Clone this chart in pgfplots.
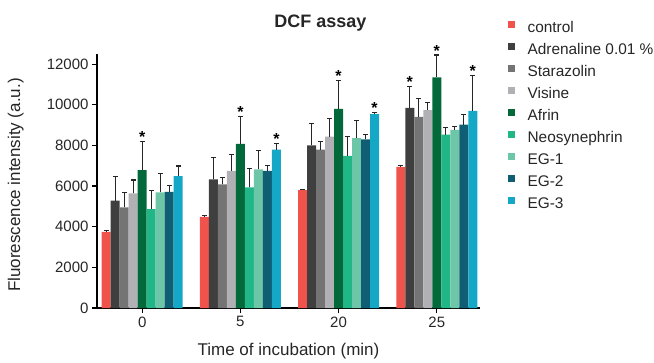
\documentclass[border=0pt]{standalone}
\usepackage{fontspec}
\setmainfont{Liberation Sans}
\usepackage{pgfplots}
\usepackage{pgfplotstable}
\pgfplotsset{compat=1.18}
\definecolor{cCtrl}{HTML}{F0524C}
\definecolor{cAdr}{HTML}{3F3F3F}
\definecolor{cSta}{HTML}{747474}
\definecolor{cVis}{HTML}{B1B1B5}
\definecolor{cAfr}{HTML}{03693A}
\definecolor{cNeo}{HTML}{20B685}
\definecolor{cEGa}{HTML}{6DC6A7}
\definecolor{cEGb}{HTML}{0F5E73}
\definecolor{cEGc}{HTML}{14A7C6}
\pgfplotstableread{
x ctrl ctrlE adr adrE sta staE vis visE afr afrE neo neoE ega egaE egb egbE egc egcE
0 3750 50 5280 1210 4950 720 5640 660 6790 1390 4870 900 5690 950 5720 330 6490 500
1 4480 80 6330 1080 6080 360 6750 820 8080 1330 5940 930 6820 950 6750 250 7790 310
2 5800 50 8000 1100 7790 410 8430 900 9800 1410 7490 970 8360 850 8300 230 9540 80
3 6950 70 9850 1070 9410 890 9740 390 11350 1100 8530 360 8770 180 9020 520 9700 1720
}\data
\begin{document}
\begin{tikzpicture}
\path[use as bounding box] (-97pt,-54pt) rectangle (557pt,308pt);
\begin{axis}[
  at={(0pt,0pt)}, anchor=south west,
  scale only axis, width=383pt, height=254pt,
  clip=false,
  axis lines=left, axis line style={-, line width=1.2pt, black},
  xmin=-0.46, xmax=3.44, ymin=0, ymax=12500,
  xtick={0,1,2,3}, xticklabels={0,5,20,25},
  ytick={0,2000,4000,6000,8000,10000,12000},
  scaled y ticks=false,
  /pgf/number format/.cd, set thousands separator={}, assume math mode=true, /pgfplots/.cd,
  tick align=outside, major tick length=5pt,
  tick style={line width=1.2pt, black},
  ticklabel style={font=\fontsize{15}{18}\selectfont, text=black!85},
  xlabel={Time of incubation (min)},
  ylabel={Fluorescence intensity (a.u.)},
  label style={font=\fontsize{17}{20}\selectfont, text=black!85},
  xlabel style={at={(axis description cs:0.5,-0.17)}, anchor=center},
  ylabel style={at={(axis description cs:-0.212,0.484)}, anchor=center},
  ybar, bar width=9pt,
  every axis plot/.append style={draw=none},
  error bars/error bar style={line width=1.1pt, color=black!85},
  error bars/error mark options={rotate=90, mark size=2.4pt, line width=1.1pt, color=black!85},
  legend style={draw=none, fill=none, at={(axis description cs:1.065,1.138)}, anchor=north west,
    font=\fontsize{15.4}{18}\selectfont, row sep=7pt, column sep=13pt, text=black!85,
    nodes={inner sep=0pt, text height=11pt, text depth=4pt}},
  legend cell align=left,
  legend image code/.code={\fill[#1] (0pt,1pt) rectangle (6.5pt,7.5pt);},
]
\addplot[fill=cCtrl, bar shift=-36pt, error bars/.cd, y dir=plus, y explicit] table[x=x, y=ctrl, y error=ctrlE]{\data};
\addplot[fill=cAdr, bar shift=-27pt, error bars/.cd, y dir=plus, y explicit] table[x=x, y=adr, y error=adrE]{\data};
\addplot[fill=cSta, bar shift=-18pt, error bars/.cd, y dir=plus, y explicit] table[x=x, y=sta, y error=staE]{\data};
\addplot[fill=cVis, bar shift=-9pt, error bars/.cd, y dir=plus, y explicit] table[x=x, y=vis, y error=visE]{\data};
\addplot[fill=cAfr, bar shift=0pt, error bars/.cd, y dir=plus, y explicit] table[x=x, y=afr, y error=afrE]{\data};
\addplot[fill=cNeo, bar shift=9pt, error bars/.cd, y dir=plus, y explicit] table[x=x, y=neo, y error=neoE]{\data};
\addplot[fill=cEGa, bar shift=18pt, error bars/.cd, y dir=plus, y explicit] table[x=x, y=ega, y error=egaE]{\data};
\addplot[fill=cEGb, bar shift=27pt, error bars/.cd, y dir=plus, y explicit] table[x=x, y=egb, y error=egbE]{\data};
\addplot[fill=cEGc, bar shift=36pt, error bars/.cd, y dir=plus, y explicit] table[x=x, y=egc, y error=egcE]{\data};
\legend{control, Adrenaline 0.01 \%, Starazolin, Visine, Afrin, Neosynephrin, EG-1, EG-2, EG-3}
\tikzset{star/.style={anchor=base, yshift=-1pt, inner sep=0pt, font=\bfseries\fontsize{16}{16}\selectfont}}
\node[star] at (axis cs:0,8180) {*};
\node[star] at (axis cs:1,9410) {*};
\node[star] at (axis cs:1.3666,8100) {*};
\node[star] at (axis cs:2,11210) {*};
\node[star] at (axis cs:2.3666,9620) {*};
\node[star] at (axis cs:2.725,10920) {*};
\node[star] at (axis cs:3,12450) {*};
\node[star] at (axis cs:3.3666,11420) {*};
\end{axis}
\node[font=\bfseries\fontsize{18}{21}\selectfont, text=black!85] at (223.5pt,285pt) {DCF assay};
\end{tikzpicture}
\end{document}
